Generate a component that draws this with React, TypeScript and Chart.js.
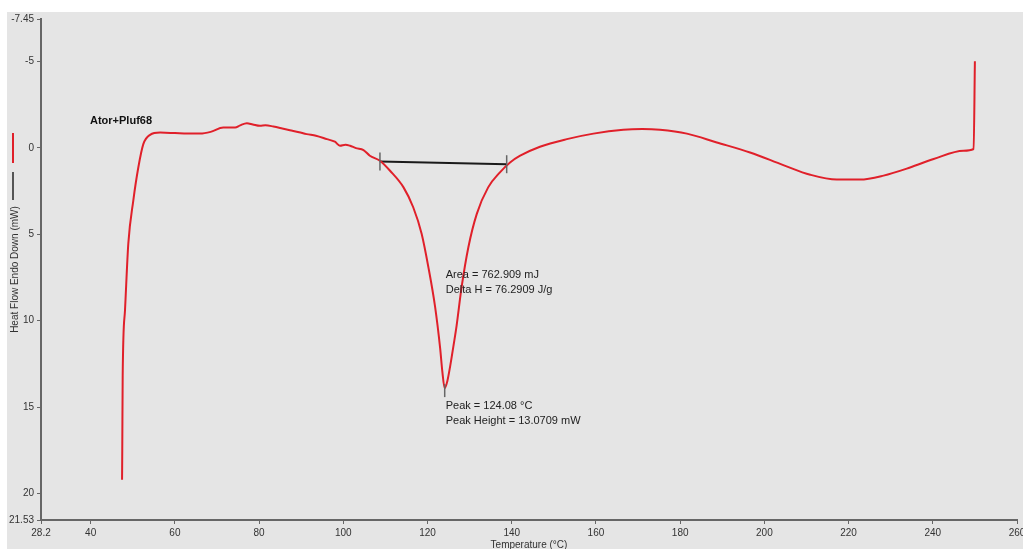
import React, { useEffect, useRef } from "react";
import { Chart, registerables } from "chart.js";

Chart.register(...registerables);

const temps: number[] = [
  47.45, 47.5, 47.6, 48.15, 48.94, 50.12, 51.31, 52.5, 54.1, 56.5, 60, 63, 66, 68.5, 71.5, 74.3, 75.5,
  77.1, 78.5, 80.2, 81.5, 83.4, 85.5, 87.3, 89.5, 91.3, 93.5, 96.1, 98, 99.2, 100.5, 101.6, 103, 104.8,
  106.3, 108.7, 111.1, 114.3, 116.6, 118.6, 120.2, 121.8, 123.0, 123.5, 124.08, 124.7, 125.4, 126.2,
  126.9, 128.1, 129.7, 131.7, 134.4, 137.2, 139.6, 142.0, 146.7, 153.1, 159.4, 166.5, 171, 175.2,
  181.6, 188.7, 196.6, 204.5, 210.9, 217.2, 222.7, 228.3, 234.6, 240.2, 247.3, 249.7, 250.0,
];
const heatFlow: number[] = [
  19.2, 17.5, 13.2, 9.4, 5.53, 3.05, 1.14, -0.21, -0.75, -0.88, -0.85, -0.82, -0.82, -0.92, -1.17, -1.17, -1.3,
  -1.42, -1.35, -1.27, -1.3, -1.23, -1.12, -1.02, -0.9, -0.79, -0.7, -0.5, -0.35, -0.12, -0.18, -0.12, 0.02, 0.13,
  0.46, 0.75, 1.33, 2.29, 3.44, 4.97, 6.9, 9.2, 11.6, 12.9, 13.9, 13.5, 12.6, 11.4,
  10.3, 8.05, 5.75, 3.82, 2.29, 1.42, 0.85, 0.46, -0.06, -0.5, -0.82, -1.04, -1.08, -1.04,
  -0.82, -0.31, 0.27, 1.0, 1.56, 1.84, 1.84, 1.61, 1.14, 0.65, 0.17, 0.07, -5.0,
];
const baselineTemps: number[] = [108.7, 138.8];
const baselineFlow: number[] = [0.8, 0.95];
const peakTemp = 124.08;
const peakFlow = 13.9;

const xTicks: number[] = [28.2, 40, 60, 80, 100, 120, 140, 160, 180, 200, 220, 240, 260];
const yTicks: number[] = [-7.45, -5, 0, 5, 10, 15, 20, 21.53];

const sampleName = "Ator+Pluf68";
const xTitle = "Temperature (°C)";
const yTitle = "Heat Flow Endo Down (mW)";
const areaLines: string[] = ["Area = 762.909 mJ", "Delta H = 76.2909 J/g"];
const peakLines: string[] = ["Peak = 124.08 °C", "Peak Height = 13.0709 mW"];

const FONT = "'Liberation Sans', Arial, sans-serif";

const decorPlugin = {
  id: "decor",
  beforeDraw(chart: any) {
    const ctx = chart.ctx;
    ctx.save();
    ctx.fillStyle = "#ffffff";
    ctx.fillRect(0, 0, chart.width, chart.height);
    ctx.fillStyle = "#e5e5e5";
    ctx.fillRect(7, 12, chart.width - 7, chart.height - 12);
    ctx.restore();
  },
  afterDraw(chart: any) {
    const ctx = chart.ctx;
    const xs = chart.scales.x;
    const ys = chart.scales.y;
    const area = chart.chartArea;
    ctx.save();
    ctx.fillStyle = "#333";
    ctx.font = `10px ${FONT}`;
    ctx.textAlign = "center";
    ctx.textBaseline = "middle";
    ctx.save();
    ctx.translate(15, (area.top + area.bottom) / 2);
    ctx.rotate(-Math.PI / 2);
    ctx.fillText(yTitle, 0, 0);
    ctx.restore();
    ctx.textBaseline = "top";
    ctx.fillText(xTitle, (area.left + area.right) / 2, 540);
    ctx.lineWidth = 2;
    ctx.strokeStyle = "#e0202a";
    ctx.beginPath();
    ctx.moveTo(13, 133);
    ctx.lineTo(13, 163);
    ctx.stroke();
    ctx.strokeStyle = "#555";
    ctx.beginPath();
    ctx.moveTo(13, 172);
    ctx.lineTo(13, 200);
    ctx.stroke();
    ctx.fillStyle = "#111";
    ctx.font = `bold 11px ${FONT}`;
    ctx.textAlign = "left";
    ctx.textBaseline = "middle";
    ctx.fillText(sampleName, 90, 121);
    ctx.strokeStyle = "#666";
    ctx.lineWidth = 1.5;
    for (let i = 0; i < baselineTemps.length; i++) {
      const px = xs.getPixelForValue(baselineTemps[i]);
      const py = ys.getPixelForValue(baselineFlow[i]);
      ctx.beginPath();
      ctx.moveTo(px, py - 9);
      ctx.lineTo(px, py + 9);
      ctx.stroke();
    }
    const ppx = xs.getPixelForValue(peakTemp);
    const ppy = ys.getPixelForValue(peakFlow);
    ctx.beginPath();
    ctx.moveTo(ppx, ppy - 4);
    ctx.lineTo(ppx, ppy + 9);
    ctx.stroke();
    ctx.fillStyle = "#222";
    ctx.font = `11px ${FONT}`;
    ctx.textAlign = "left";
    ctx.textBaseline = "middle";
    areaLines.forEach((t, i) => ctx.fillText(t, ppx + 1, 275 + i * 15));
    peakLines.forEach((t, i) => ctx.fillText(t, ppx + 1, 406 + i * 15));
    ctx.restore();
  },
};

export default function App() {
  const ref = useRef<HTMLCanvasElement | null>(null);
  useEffect(() => {
    if (!ref.current) return;
    const curve = temps.map((t, i) => ({ x: t, y: heatFlow[i] }));
    const base = baselineTemps.map((t, i) => ({ x: t, y: baselineFlow[i] }));
    const chart = new Chart(ref.current, {
      type: "line",
      data: {
        datasets: [
          {
            data: curve,
            borderColor: "#e0202a",
            borderWidth: 2,
            pointRadius: 0,
            cubicInterpolationMode: "monotone",
            fill: false,
          },
          {
            data: base,
            borderColor: "#1a1a1a",
            borderWidth: 2,
            pointRadius: 0,
            tension: 0,
            fill: false,
          },
        ],
      },
      options: {
        responsive: false,
        animation: false,
        events: [],
        layout: { padding: { left: 0, top: 19, right: 6, bottom: 0 } },
        plugins: { legend: { display: false }, tooltip: { enabled: false }, title: { display: false } },
        scales: {
          x: {
            type: "linear",
            min: 28.2,
            max: 260,
            afterBuildTicks: (s: any) => {
              s.ticks = xTicks.map((v) => ({ value: v }));
            },
            afterFit: (s: any) => {
              s.height = 29;
              s.paddingLeft = 0;
              s.paddingRight = 0;
            },
            ticks: {
              autoSkip: false,
              maxRotation: 0,
              padding: 3,
              color: "#333",
              font: { family: FONT, size: 10 },
              callback: (v: any) => String(v),
            },
            grid: { drawOnChartArea: false, drawTicks: true, tickLength: 4, color: "#666" },
            border: { color: "#666", width: 2 },
          },
          y: {
            type: "linear",
            reverse: true,
            min: -7.45,
            max: 21.53,
            afterBuildTicks: (s: any) => {
              s.ticks = yTicks.map((v) => ({ value: v }));
            },
            afterFit: (s: any) => {
              s.width = 41;
              s.paddingTop = 0;
              s.paddingBottom = 0;
            },
            ticks: {
              autoSkip: false,
              padding: 3,
              color: "#333",
              font: { family: FONT, size: 10 },
              callback: (v: any) => String(v),
            },
            grid: { drawOnChartArea: false, drawTicks: true, tickLength: 4, color: "#666" },
            border: { color: "#666", width: 2 },
          },
        },
      },
      plugins: [decorPlugin],
    } as any);
    return () => chart.destroy();
  }, []);
  return (
    <div style={{ position: "absolute", left: 0, top: 0, width: 1023, height: 549, overflow: "hidden" }}>
      <canvas ref={ref} width={1023} height={549} style={{ display: "block" }} />
    </div>
  );
}
